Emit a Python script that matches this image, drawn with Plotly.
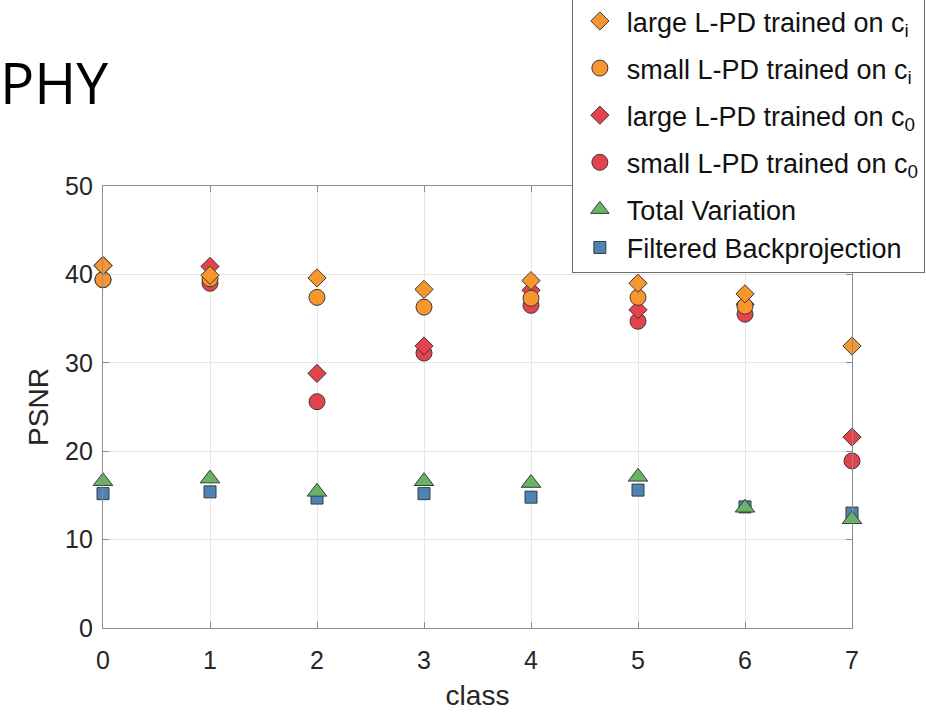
import plotly.graph_objects as go

# PSNR per class for each reconstruction method
classes = [0, 1, 2, 3, 4, 5, 6, 7]
large_ci = [41.0, 39.9, 39.6, 38.3, 39.3, 39.0, 37.8, 31.9]
small_ci = [39.4, 39.5, 37.4, 36.3, 37.3, 37.4, 36.4, None]
large_c0 = [41.0, 40.9, 28.8, 31.9, 38.2, 36.0, 36.6, 21.6]
small_c0 = [39.4, 39.0, 25.6, 31.1, 36.5, 34.7, 35.5, 18.9]
total_variation = [16.6, 16.9, 15.4, 16.6, 16.4, 17.1, 13.6, 12.3]
filtered_bp = [15.2, 15.4, 14.7, 15.2, 14.8, 15.6, 13.7, 13.0]

x_ticks = [0, 1, 2, 3, 4, 5, 6, 7]
y_ticks = [0, 10, 20, 30, 40, 50]

ORANGE = "#F7962E"
RED = "#E5434B"
GREEN = "#67B564"
BLUE = "#4C84B6"
EDGE = "#3a3a3a"

FONT = "Liberation Sans, Arial, sans-serif"

# drawn bottom-up so the orange markers sit on top of the red ones;
# fields: name, values, symbol, size, colour, legend group, legend rank
series = [
    ("Filtered Backprojection", filtered_bp, "square", 12, BLUE, "base", 6),
    ("Total Variation", total_variation, "triangle-up", 17, GREEN, "base", 5),
    ("small L-PD trained on c<sub>0</sub>", small_c0, "circle", 16, RED, "s0", 4),
    ("large L-PD trained on c<sub>0</sub>", large_c0, "diamond", 14, RED, "l0", 3),
    ("small L-PD trained on c<sub>i</sub>", small_ci, "circle", 16, ORANGE, "si", 2),
    ("large L-PD trained on c<sub>i</sub>", large_ci, "diamond", 14, ORANGE, "li", 1),
]

fig = go.Figure()
for name, vals, sym, size, col, grp, rank in series:
    fig.add_trace(go.Scatter(
        x=classes, y=vals, mode="markers", name=name,
        legendgroup=grp, legendrank=rank, cliponaxis=False,
        marker=dict(symbol=sym, size=size, color=col,
                    line=dict(color=EDGE, width=1)),
    ))

axis_common = dict(
    showline=True, linecolor="#8c8c8c", linewidth=1.2, mirror="ticks",
    ticks="inside", ticklen=6, tickcolor="#8c8c8c", tickwidth=1,
    showgrid=True, gridcolor="#e6e6e6", gridwidth=1, zeroline=False,
    tickfont=dict(family=FONT, size=25, color="#262626"),
)

fig.update_xaxes(
    range=[0, 7], tickvals=x_ticks, ticktext=[str(v) for v in x_ticks],
    ticklabelstandoff=10,
    title=dict(text="class", font=dict(family=FONT, size=28, color="#262626"),
               standoff=12),
    **axis_common,
)
fig.update_yaxes(
    range=[0, 50], tickvals=y_ticks, ticktext=[str(v) for v in y_ticks],
    ticklabelstandoff=4,
    title=dict(text="PSNR", font=dict(family=FONT, size=28, color="#262626"),
               standoff=8),
    **axis_common,
)

fig.add_annotation(
    text="PHY", xref="paper", yref="paper", x=-0.14, y=1.236,
    xanchor="left", yanchor="middle", showarrow=False,
    font=dict(family="Open Sans, sans-serif", size=57, color="#000000"),
)

fig.update_layout(
    width=926, height=712,
    margin=dict(l=103, r=74, t=186, b=84, autoexpand=False),
    paper_bgcolor="white", plot_bgcolor="white",
    showlegend=True,
    legend=dict(
        traceorder="grouped",
        tracegroupgap=9,
        x=0.626, y=1.43, xanchor="left", yanchor="top",
        bgcolor="white", bordercolor="#6e6e6e", borderwidth=1,
        font=dict(family=FONT, size=27, color="#111111"),
        itemsizing="trace", itemwidth=44,
    ),
)

fig.write_html("out.html")
